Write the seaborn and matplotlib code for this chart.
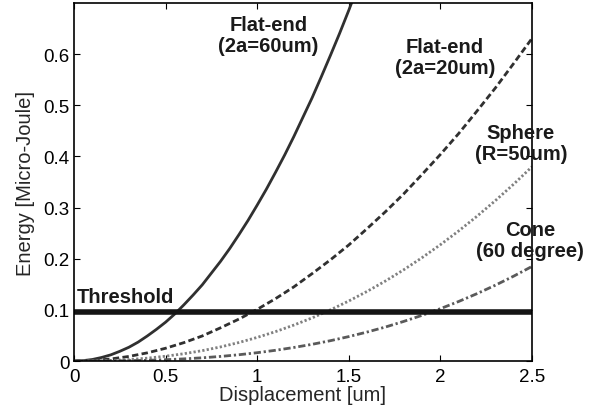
import numpy as np
import pandas as pd
import seaborn as sns
import matplotlib
matplotlib.use('Agg')
import matplotlib.pyplot as plt

#------------------------------------------------------------------------------
# values
disp = [0.0, 0.1, 0.2, 0.3, 0.4, 0.5, 0.6, 0.7, 0.8, 0.9, 1.0, 1.1, 1.2,
        1.3, 1.4, 1.5, 1.6, 1.7, 1.8, 1.9, 2.0, 2.1, 2.2, 2.3, 2.4, 2.5]

disp_fine = [0.0, 0.05, 0.1, 0.15, 0.2, 0.25, 0.3, 0.35, 0.4, 0.45, 0.5,
             0.55, 0.6, 0.65, 0.7, 0.75, 0.8, 0.85, 0.9, 0.95, 1.0, 1.05,
             1.1, 1.15, 1.2, 1.25, 1.3, 1.35, 1.4, 1.45, 1.5, 1.55, 1.6]

flat60 = [0.0, 0.0008, 0.003, 0.0069, 0.012, 0.019, 0.027, 0.037, 0.049,
          0.062, 0.076, 0.092, 0.110, 0.129, 0.149, 0.172, 0.195, 0.220,
          0.247, 0.275, 0.305, 0.336, 0.369, 0.403, 0.439, 0.477, 0.515,
          0.556, 0.598, 0.641, 0.686, 0.733, 0.781]

flat20 = [0.0, 0.001, 0.004, 0.009, 0.016, 0.025, 0.036, 0.049, 0.065,
          0.082, 0.101, 0.122, 0.145, 0.171, 0.198, 0.227, 0.259, 0.292,
          0.327, 0.365, 0.404, 0.445, 0.489, 0.534, 0.582, 0.631]

sphere = [0.0, 0.0002, 0.0011, 0.0029, 0.0056, 0.0094, 0.0143, 0.0203,
          0.0276, 0.0362, 0.0462, 0.0575, 0.0703, 0.0844, 0.1001, 0.1174,
          0.1362, 0.1565, 0.1785, 0.2022, 0.2275, 0.2545, 0.2832, 0.3137,
          0.3459, 0.380]

cone = [0.0, 0.0001, 0.0002, 0.0007, 0.0014, 0.0026, 0.0042, 0.0063,
        0.0090, 0.0123, 0.0163, 0.0210, 0.0265, 0.0327, 0.0398, 0.0478,
        0.0567, 0.0665, 0.0775, 0.0894, 0.1024, 0.1165, 0.1318, 0.1483,
        0.1660, 0.185]

threshold = 0.095

labels = {
    'flat60': 'Flat-end\n(2a=60um)',
    'flat20': 'Flat-end\n(2a=20um)',
    'sphere': 'Sphere\n(R=50um)',
    'cone': 'Cone\n(60 degree)',
}

#------------------------------------------------------------------------------
sns.set_style('ticks')
plt.rcParams['font.family'] = ['Liberation Sans', 'DejaVu Sans']
plt.rcParams['xtick.direction'] = 'in'
plt.rcParams['ytick.direction'] = 'in'

fig = plt.figure(figsize=(5.94, 4.10), dpi=100)
ax = fig.add_axes([0.1246, 0.117, 0.771, 0.873])

lw = 2.0

sns.lineplot(x=disp_fine, y=flat60, color='#303030', linewidth=lw, ax=ax)
sns.lineplot(x=disp, y=flat20, color='#303030', linewidth=lw, ax=ax,
             linestyle=(0, (2.3, 1.2)))
sns.lineplot(x=disp, y=sphere, color='#808080', linewidth=lw, ax=ax,
             linestyle=(0, (0.8, 0.8)))
sns.lineplot(x=disp, y=cone, color='#5a5a5a', linewidth=lw, ax=ax,
             linestyle=(0, (2.6, 1.0, 0.8, 1.0)))

ax.axhline(threshold, color='#151515', linewidth=4.0)

ax.set_xlim(0, 2.5)
ax.set_ylim(0, 0.7)
ax.set_xticks([0, 0.5, 1, 1.5, 2, 2.5])
ax.set_xticklabels(['0', '0.5', '1', '1.5', '2', '2.5'])
ax.set_yticks([0, 0.1, 0.2, 0.3, 0.4, 0.5, 0.6])
ax.set_yticklabels(['0', '0.1', '0.2', '0.3', '0.4', '0.5', '0.6'])
ax.tick_params(axis='both', labelsize=13.5, length=4, width=0.8,
               top=True, right=True, colors='black')
ax.tick_params(axis='x', pad=5)
ax.tick_params(axis='y', pad=3)
for s in ax.spines.values():
    s.set_linewidth(1.2)
    s.set_color('black')
    s.set_visible(True)

ax.set_xlabel('Displacement [um]', fontsize=14.5, labelpad=0)
ax.set_ylabel('Energy [Micro-Joule]', fontsize=14.5, labelpad=6)

#------------
tkw = dict(fontsize=14.5, fontweight='bold', ha='center', va='center',
           linespacing=1.15, clip_on=False, color='#1a1a1a')
ax.text(1.06, 0.638, labels['flat60'], **tkw)
ax.text(2.025, 0.595, labels['flat20'], **tkw)
ax.text(2.44, 0.426, labels['sphere'], **tkw)
ax.text(2.49, 0.236, labels['cone'], **tkw)
ax.text(0.016, 0.127, 'Threshold', fontsize=14.5, fontweight='bold',
        ha='left', va='center', color='#1a1a1a')

fig.savefig('out.png', dpi=100)
